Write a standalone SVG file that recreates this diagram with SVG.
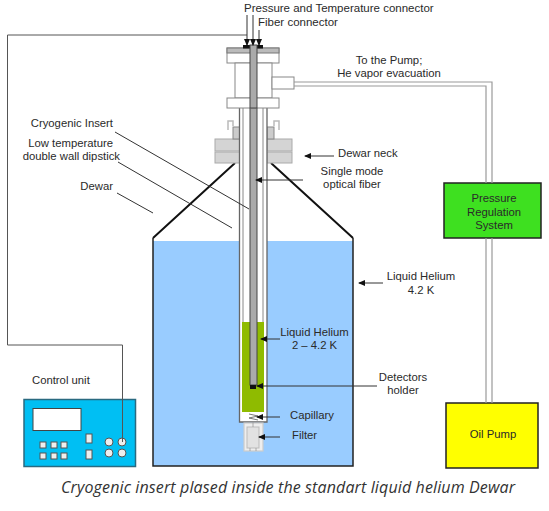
<svg xmlns="http://www.w3.org/2000/svg" width="549" height="511" viewBox="0 0 549 511">
<style>
text{font-family:"Liberation Sans",Arial,sans-serif;font-size:11.3px;fill:#2a2a2a}
.m{text-anchor:middle}
.e{text-anchor:end}
.l{fill:none;stroke:#333;stroke-width:1}
.g{fill:none;stroke:#9a9a9a;stroke-width:1.2}
.k{fill:none;stroke:#111;stroke-width:2}
.b{fill:#fff;stroke:#888;stroke-width:1}
.h{fill:#d4d4d4;stroke:#aaa;stroke-width:1}
</style>
<defs>
<marker id="a" markerWidth="7" markerHeight="6" refX="6" refY="3" orient="auto" markerUnits="userSpaceOnUse"><path d="M0 0L7 3L0 6z" fill="#111"/></marker>
</defs>
<g id="dewar">
<rect x="153" y="241" width="200" height="225" fill="#99ccff"/>
<path d="M153 238V466H353V238" fill="none" stroke="#222" stroke-width="1.5"/>
<path d="M153 238L235 163M353 238L271 163" class="k"/>
</g>
<g id="neck">
<rect x="215" y="139" width="25" height="12" class="h"/><rect x="215" y="152" width="25" height="11" class="h"/>
<rect x="267" y="139" width="25" height="12" class="h"/><rect x="267" y="152" width="25" height="11" class="h"/>
<rect x="233" y="127" width="7" height="12" fill="#ccc" stroke="#888"/>
<rect x="267" y="127" width="7" height="12" fill="#ccc" stroke="#888"/>
<path d="M233 126V121H228V130M274 126V121H279V130" fill="none" stroke="#bbb" stroke-width="1.5"/>
</g>
<g id="insert">
<rect x="239" y="108" width="28" height="314" fill="#fff"/>
<rect x="242" y="322" width="22" height="90" fill="#8fbb00"/>
<path d="M239.500 108V422H267V108" stroke="#666" stroke-width="1.3" fill="none"/>
<path d="M243 108V322M263 108V322" stroke="#888" fill="none"/>
<rect x="250" y="46" width="7" height="339" fill="#aaa" stroke="#444"/>
<rect x="250" y="385" width="6" height="4" fill="#111"/>
<path d="M249 414L258 416L249 418L258 420" fill="none" stroke="#555" stroke-width="0.8"/>
</g>
<g id="head">
<rect x="227" y="48" width="52" height="15" class="b"/>
<rect x="227" y="48" width="52" height="5" fill="#bbb" stroke="#777"/>
<rect x="235" y="63" width="37" height="35" class="b"/>
<rect x="227" y="98" width="52" height="10" class="b"/>
<rect x="272" y="77" width="22" height="12" class="b"/>
<rect x="243" y="45" width="20" height="3.500" fill="#111"/>
<rect x="250" y="45" width="7" height="63" fill="#aaa" stroke="#444"/>
</g>
<g id="filter">
<rect x="244" y="423" width="19" height="28" fill="#eee" stroke="#ccc" stroke-width="1.2"/>
<rect x="247" y="427" width="12" height="21" fill="#e2e2e2" stroke="#bbb"/>
<path d="M253 422V427M250 448V451M256 448V451" stroke="#999" stroke-width="0.8" fill="none"/>
</g>
<g id="control-unit">
<rect x="24" y="399.500" width="111.500" height="67" fill="#00bff3" stroke="#2a6a80" stroke-width="1.5"/>
<rect x="33" y="408.500" width="48" height="22" fill="#fff" stroke="#444"/>
<g fill="#eee" stroke="#555">
<rect x="40" y="442" width="6" height="6"/><rect x="51" y="442" width="6" height="6"/><rect x="61" y="442" width="6" height="6"/>
<rect x="40" y="453" width="6" height="6"/><rect x="51" y="453" width="6" height="6"/><rect x="61" y="453" width="6" height="6"/>
<rect x="86" y="434" width="6" height="9"/><rect x="86" y="450" width="6" height="9"/>
<circle cx="109" cy="442" r="4"/><circle cx="122" cy="442" r="4"/><circle cx="109" cy="453" r="4"/><circle cx="122" cy="453" r="4"/>
</g>
<text x="32" y="384">Control unit</text>
</g>
<g id="pressure-system">
<rect x="444" y="183" width="97" height="55" fill="#3ee020" stroke="#222" stroke-width="1.5"/>
<text class="m" x="494" y="202">Pressure</text><text class="m" x="494" y="216">Regulation</text><text class="m" x="494" y="229">System</text>
</g>
<g id="oil-pump">
<rect x="446" y="403" width="92" height="65" fill="#ffff00" stroke="#222" stroke-width="1.5"/>
<text class="m" x="493" y="438">Oil Pump</text>
</g>
<g id="connectors">
<path d="M294 82H492V183M294 86H486V183M486 238V403M492 238V403" class="g"/>
<path d="M247 35H7.500V345H122.500V442" fill="none" stroke="#555"/>
<path d="M247 15V45" class="l" marker-end="url(#a)"/>
<path d="M253 15V45" class="l" marker-end="url(#a)"/>
<path d="M259 30V45" class="l" marker-end="url(#a)"/>
<path d="M334 156H305" class="l" marker-end="url(#a)"/>
<path d="M303 180H256" class="l" marker-end="url(#a)"/>
<path d="M115 132L249 209M118 162L232 228M117 193L153 213" class="l"/>
<path d="M383 283H359" class="l" marker-end="url(#a)"/>
<path d="M280 339H261" class="l" marker-end="url(#a)"/>
<path d="M377 386H257" class="l" marker-end="url(#a)"/>
<path d="M280 417H257" class="l" marker-end="url(#a)"/>
<path d="M280 437H259" class="l" marker-end="url(#a)"/>
</g>
<g id="labels">
<text x="244" y="12" style="font-size:11.500px">Pressure and Temperature connector</text>
<text x="258" y="26" style="font-size:11.500px">Fiber connector</text>
<text class="m" x="389" y="64">To the Pump;</text>
<text class="m" x="389" y="77">He vapor evacuation</text>
<text class="e" x="113" y="127">Cryogenic Insert</text>
<text class="e" x="113" y="147">Low temperature</text>
<text class="e" x="120" y="160">double wall dipstick</text>
<text class="e" x="113" y="190">Dewar</text>
<text x="338" y="157">Dewar neck</text>
<text class="m" x="352" y="175">Single mode</text>
<text class="m" x="352" y="188">optical fiber</text>
<text class="m" x="421" y="280">Liquid Helium</text>
<text class="m" x="421" y="294">4.2 K</text>
<text class="m" x="314.500" y="336">Liquid Helium</text>
<text class="m" x="314.500" y="349">2 – 4.2 K</text>
<text class="m" x="403" y="381">Detectors</text>
<text class="m" x="403" y="394">holder</text>
<text x="290" y="419">Capillary</text>
<text x="292" y="439">Filter</text>
<text x="61" y="493" textLength="454" lengthAdjust="spacing" style="font-family:'Open Sans','Noto Sans',sans-serif;font-size:16px;font-style:italic;fill:#333">Cryogenic insert plased inside the standart liquid helium Dewar</text>
</g>
</svg>
